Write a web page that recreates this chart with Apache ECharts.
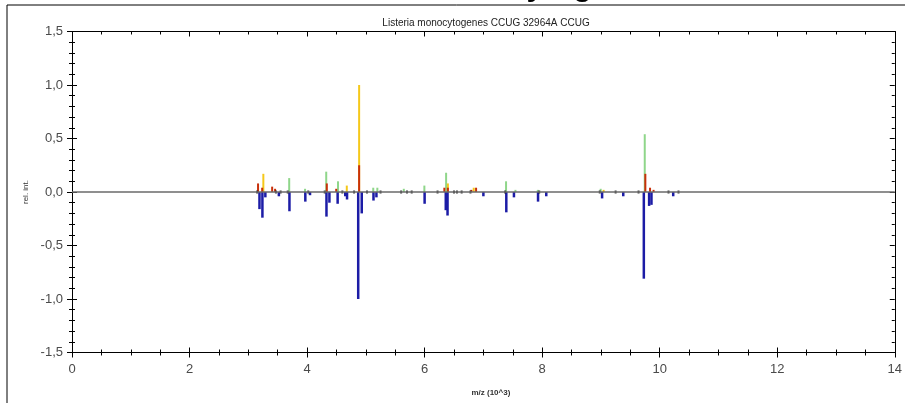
<!DOCTYPE html>
<html>
<head>
<meta charset="utf-8">
<script src="https://cdn.jsdelivr.net/npm/echarts@6/dist/echarts.min.js"></script>
<style>
html,body{margin:0;padding:0;background:#fff;}
#chart{width:905px;height:403px;}
</style>
</head>
<body>
<div id="chart"></div>
<script>
// m/z in thousands, relative intensity
var titleText = 'Listeria monocytogenes CCUG 32964A CCUG';
var yTickLabels = ['-1,5','-1,0','-0,5','0,0','0,5','1,0','1,5'];
var xTickLabels = ['0','2','4','6','8','10','12','14'];

var greenPeaks = [[3.70,0.13],[3.97,0.03],[4.33,0.19],[4.53,0.10],[5.13,0.04],[5.20,0.04],[5.65,0.03],[6.00,0.06],[6.37,0.18],[7.39,0.10],[7.55,0.02],[7.93,0.02],[9.00,0.03],[9.75,0.54]];
var yellowPeaks = [[3.26,0.17],[4.68,0.06],[4.89,1.00],[6.40,0.08],[6.84,0.04],[9.05,0.02]];
var redPeaks = [[3.17,0.08],[3.24,0.04],[3.41,0.05],[3.46,0.03],[4.34,0.08],[4.50,0.03],[4.89,0.25],[6.34,0.04],[6.40,0.04],[6.80,0.02],[6.88,0.04],[9.76,0.17],[9.84,0.04],[9.90,0.02]];
var bluePeaks = [[3.19,-0.16],[3.24,-0.24],[3.29,-0.05],[3.52,-0.04],[3.70,-0.18],[3.97,-0.09],[4.05,-0.03],[4.33,-0.23],[4.38,-0.10],[4.52,-0.11],[4.65,-0.04],[4.68,-0.07],[4.87,-1.00],[4.93,-0.20],[5.13,-0.08],[5.18,-0.05],[6.00,-0.11],[6.36,-0.17],[6.39,-0.22],[7.00,-0.04],[7.39,-0.19],[7.52,-0.05],[7.93,-0.09],[8.07,-0.04],[9.02,-0.06],[9.38,-0.04],[9.73,-0.81],[9.82,-0.13],[9.86,-0.12],[10.23,-0.04]];
var markerPeaks = [3.15,3.47,3.55,3.67,4.02,4.30,4.60,4.80,5.02,5.25,5.60,5.70,5.78,6.22,6.50,6.55,6.63,6.78,7.37,7.95,8.98,9.25,9.64,10.15,10.32];

var chart = echarts.init(document.getElementById('chart'), null, {renderer:'canvas'});

var labelStyle = {color:'#4a4a4a', fontSize:13, fontFamily:'Arial, Liberation Sans, sans-serif'};

function xAx(pos, inside, showLabel, name){
  return {
    type:'value', position:pos, min:0, max:14, interval:2,
    axisLine:{show:true, onZero:false, lineStyle:{color:'#000', width:1}},
    axisTick:{show:true, inside:inside, length:5, lineStyle:{color:'#000'}},
    minorTick:{show:true, splitNumber:4, length:3, lineStyle:{color:'#000'}},
    axisLabel:{show:showLabel, margin:10, color:labelStyle.color, fontSize:13, fontFamily:labelStyle.fontFamily, formatter:function(v){return xTickLabels[Math.round(v/2)];}},
    splitLine:{show:false},
    name: name||'', nameLocation:'middle', nameGap:36,
    nameTextStyle:{fontSize:8, fontWeight:'bold', color:'#333', fontFamily:'Arial, sans-serif', padding:[0,0,0,15]}
  };
}
function yAx(pos, inside, showLabel, name){
  return {
    type:'value', position:pos, min:-1.5, max:1.5, interval:0.5,
    axisLine:{show:true, onZero:false, lineStyle:{color:'#000', width:1}},
    axisTick:{show:true, inside:inside, length:5, lineStyle:{color:'#000'}},
    minorTick:{show:true, splitNumber:5, length:3, lineStyle:{color:'#000'}},
    axisLabel:{show:showLabel, margin:9, color:labelStyle.color, fontSize:13, fontFamily:labelStyle.fontFamily, formatter:function(v){return yTickLabels[Math.round((v+1.5)/0.5)];}},
    splitLine:{show:false},
    name: name||'', nameLocation:'middle', nameGap:40, nameRotate:90,
    nameTextStyle:{fontSize:8, color:'#333', fontFamily:'Arial, sans-serif'}
  };
}

function barSeries(data, color, w){
  return {
    type:'bar', xAxisIndex:0, yAxisIndex:0, data:data, barWidth:w||2, barGap:'-100%',
    itemStyle:{color:color}, silent:true, animation:false
  };
}

var option = {
  animation:false,
  backgroundColor:'#fff',
  title:{text:titleText, left:481, top:13, textAlign:'center',
    textStyle:{fontSize:10, fontWeight:'normal', color:'#222', fontFamily:'Liberation Sans Narrow, Arial Narrow, sans-serif'}},
  grid:{left:72, right:8, top:31.5, bottom:50.5, containLabel:false},
  xAxis:[ xAx('bottom', false, true, 'm/z (10^3)'), xAx('bottom', true, false), xAx('top', true, false) ],
  yAxis:[ yAx('left', false, true, 'rel. int.'), yAx('left', true, false), yAx('right', true, false) ],
  series:[
    barSeries(greenPeaks, '#8fd68a'),
    barSeries(yellowPeaks, '#f5c81a'),
    barSeries(redPeaks, '#c8300a'),
    barSeries(bluePeaks, '#1c1ca6', 2.5),
    {type:'scatter', xAxisIndex:0, yAxisIndex:0, data:markerPeaks.map(function(x){return [x,0];}),
      symbol:'rect', symbolSize:[2,3], itemStyle:{color:'#111'}, silent:true, z:3},
    {type:'line', xAxisIndex:0, yAxisIndex:0, data:[], silent:true,
      markLine:{silent:true, symbol:'none', label:{show:false}, animation:false,
        lineStyle:{color:'#6a6a6a', width:1.5, type:'solid'}, data:[{yAxis:0}]}, z:1}
  ],
  graphic:[
    {type:'rect', shape:{x:7, y:5, width:920, height:420}, style:{fill:'none', stroke:'#000', lineWidth:1}, silent:true},
    {type:'text', x:306, y:2, style:{text:'Listeria monocytogenes', font:'bold 31px Arial, sans-serif', fill:'#000', textVerticalAlign:'bottom', verticalAlign:'bottom'}, silent:true}
  ]
};
chart.setOption(option);
</script>
</body>
</html>
